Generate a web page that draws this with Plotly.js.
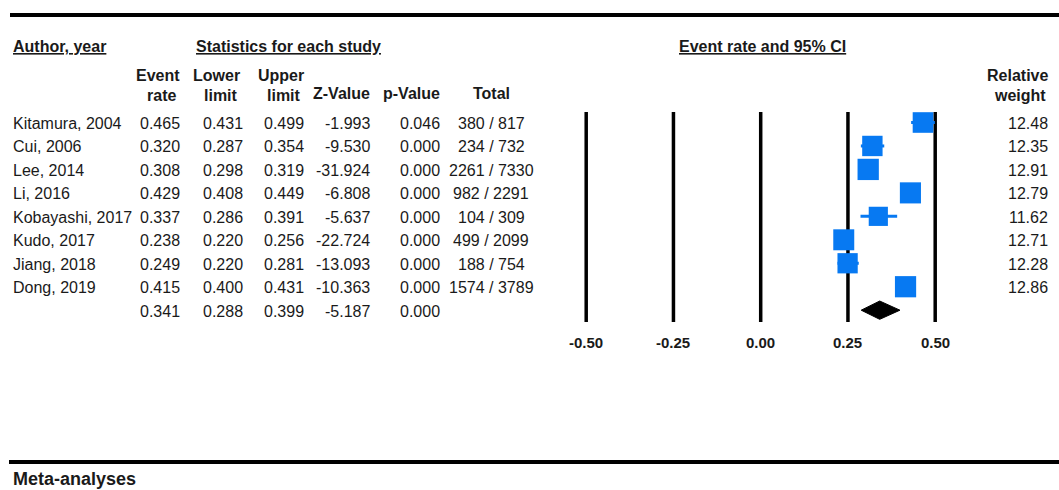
<!DOCTYPE html>
<html><head><meta charset="utf-8">
<script src="https://cdn.plot.ly/plotly-3.0.1.min.js"></script>
<style>html,body{margin:0;padding:0;background:#fff;overflow:hidden}</style>
</head><body><div id="chart" style="width:1059px;height:490px"></div>
<script>
// ---- data ----
const studies = ['Kitamura, 2004','Cui, 2006','Lee, 2014','Li, 2016','Kobayashi, 2017','Kudo, 2017','Jiang, 2018','Dong, 2019'];
const eventRate = [0.465, 0.320, 0.308, 0.429, 0.337, 0.238, 0.249, 0.415];
const lowerLimit = [0.431, 0.287, 0.298, 0.408, 0.286, 0.220, 0.220, 0.400];
const upperLimit = [0.499, 0.354, 0.319, 0.449, 0.391, 0.256, 0.281, 0.431];
const zValue = [-1.993, -9.530, -31.924, -6.808, -5.637, -22.724, -13.093, -10.363];
const pValue = [0.046, 0.000, 0.000, 0.000, 0.000, 0.000, 0.000, 0.000];
const totals = ['380 / 817','234 / 732','2261 / 7330','982 / 2291','104 / 309','499 / 2099','188 / 754','1574 / 3789'];
const weights = [12.48, 12.35, 12.91, 12.79, 11.62, 12.71, 12.28, 12.86];
const summaryRate = 0.341, summaryLower = 0.288, summaryUpper = 0.399, summaryZ = -5.187, summaryP = 0.000;
const tickVals = [-0.50, -0.25, 0.00, 0.25, 0.50];
const tickText = ['-0.50','-0.25','0.00','0.25','0.50'];

// ---- layout geometry ----
const W = 1059, H = 490;
const X0 = 760.7, XS = 349;          // pixel of 0 and pixels per unit
const Y0 = 122.5, YS = 23.46;        // pixel of first row and row spacing
const BLUE = '#0779f2';
const TXT = '#1a1a1a';
const FF = 'Liberation Sans, Arial, sans-serif';
const rows = studies.map((s, i) => i);
const sumRow = studies.length;

function px2p(px){ return px / W; }
function py2p(py){ return 1 - py / H; }

const annotations = [];
function A(text, px, py, xanchor, opts){
  annotations.push(Object.assign({
    text, xref:'paper', yref:'paper', x: px2p(px), y: py2p(py),
    xanchor, yanchor:'middle', showarrow:false, align: xanchor === 'left' ? 'left' : (xanchor === 'right' ? 'right' : 'center'),
    font:{family:FF, size:16, color:TXT}
  }, opts || {}));
}
function R(text, px, row, xanchor, opts){
  annotations.push(Object.assign({
    text, xref:'paper', yref:'y', x: px2p(px), y: row, yshift: -1,
    xanchor, yanchor:'middle', showarrow:false,
    font:{family:FF, size:16, color:TXT}
  }, opts || {}));
}

// headers
A('<b><u>Author, year</u></b>', 11, 46, 'left');
A('<b><u>Statistics for each study</u></b>', 194, 46, 'left');
A('<b><u>Event rate and 95% CI</u></b>', 762, 46, 'center');
const colX = {event:182, lower:245, upper:306, z:372, p:442, total:491, weight:1050};
A('<b>Event</b>', colX.event, 75, 'right');
A('<b>rate</b>', 161, 95, 'center');
A('<b>Lower</b>', colX.lower - 3, 75, 'right');
A('<b>limit</b>', 221, 95, 'center');
A('<b>Upper</b>', colX.upper, 75, 'right');
A('<b>limit</b>', 284, 95, 'center');
A('<b>Z-Value</b>', colX.z, 94, 'right');
A('<b>p-Value</b>', colX.p, 94, 'right');
A('<b>Total</b>', colX.total, 94, 'center');
A('<b>Relative</b>', colX.weight, 75, 'right');
A('<b>weight</b>', 1020, 95, 'center');

// table rows
studies.forEach((s, i) => {
  R(s, 11, i, 'left');
  R(eventRate[i].toFixed(3), colX.event, i, 'right');
  R(lowerLimit[i].toFixed(3), colX.lower, i, 'right');
  R(upperLimit[i].toFixed(3), colX.upper, i, 'right');
  R(zValue[i].toFixed(3), colX.z, i, 'right');
  R(pValue[i].toFixed(3), colX.p, i, 'right');
  R(totals[i], colX.total, i, 'center');
  R(weights[i].toFixed(2), colX.weight, i, 'right');
});
R(summaryRate.toFixed(3), colX.event, sumRow, 'right');
R(summaryLower.toFixed(3), colX.lower, sumRow, 'right');
R(summaryUpper.toFixed(3), colX.upper, sumRow, 'right');
R(summaryZ.toFixed(3), colX.z, sumRow, 'right');
R(summaryP.toFixed(3), colX.p, sumRow, 'right');

// tick labels
tickVals.forEach((v, k) => {
  annotations.push({text:'<b>'+tickText[k]+'</b>', xref:'x', yref:'paper', x:v, y:py2p(342),
    xanchor:'center', yanchor:'middle', showarrow:false, font:{family:FF, size:15, color:TXT}});
});

// footer text
A('<b>Meta-analyses</b>', 11, 479, 'left', {font:{family:FF, size:18, color:TXT}});

// shapes: rules and reference lines
const shapes = [
  {type:'line', xref:'paper', yref:'paper', x0:px2p(10), x1:1, y0:py2p(15), y1:py2p(15), line:{color:'#000', width:4}},
  {type:'line', xref:'paper', yref:'paper', x0:px2p(9), x1:1, y0:py2p(462), y1:py2p(462), line:{color:'#000', width:4}}
];
tickVals.forEach(v => {
  shapes.push({type:'line', xref:'x', yref:'paper', x0:v, x1:v, y0:py2p(322), y1:py2p(112),
    layer:'below', line:{color:'#000', width:3.5}});
});

const studyTrace = {
  type:'scatter', mode:'markers', x:eventRate, y:rows, cliponaxis:false,
  marker:{symbol:'square', size:weights.map(w => w * 1.65), color:BLUE, opacity:1, line:{width:0}},
  error_x:{type:'data', symmetric:false,
    array:upperLimit.map((u, i) => u - eventRate[i]),
    arrayminus:lowerLimit.map((l, i) => eventRate[i] - l),
    color:BLUE, thickness:3, width:0},
  hoverinfo:'skip', showlegend:false
};
const dh = 0.39;
const diamond = {
  type:'scatter', mode:'lines', fill:'toself', fillcolor:'#000',
  x:[summaryLower, summaryRate, summaryUpper, summaryRate, summaryLower],
  y:[sumRow, sumRow - dh, sumRow, sumRow + dh, sumRow],
  line:{color:'#000', width:1}, hoverinfo:'skip', showlegend:false
};

const layout = {
  width:W, height:H, margin:{l:0, r:0, t:0, b:0},
  paper_bgcolor:'#fff', plot_bgcolor:'#fff', showlegend:false,
  xaxis:{range:[-X0 / XS, (W - X0) / XS], visible:false, fixedrange:true},
  yaxis:{range:[(H - Y0) / YS, -Y0 / YS], visible:false, fixedrange:true},
  annotations, shapes
};
Plotly.newPlot('chart', [diamond, studyTrace], layout, {staticPlot:true, displayModeBar:false});
</script></body></html>
